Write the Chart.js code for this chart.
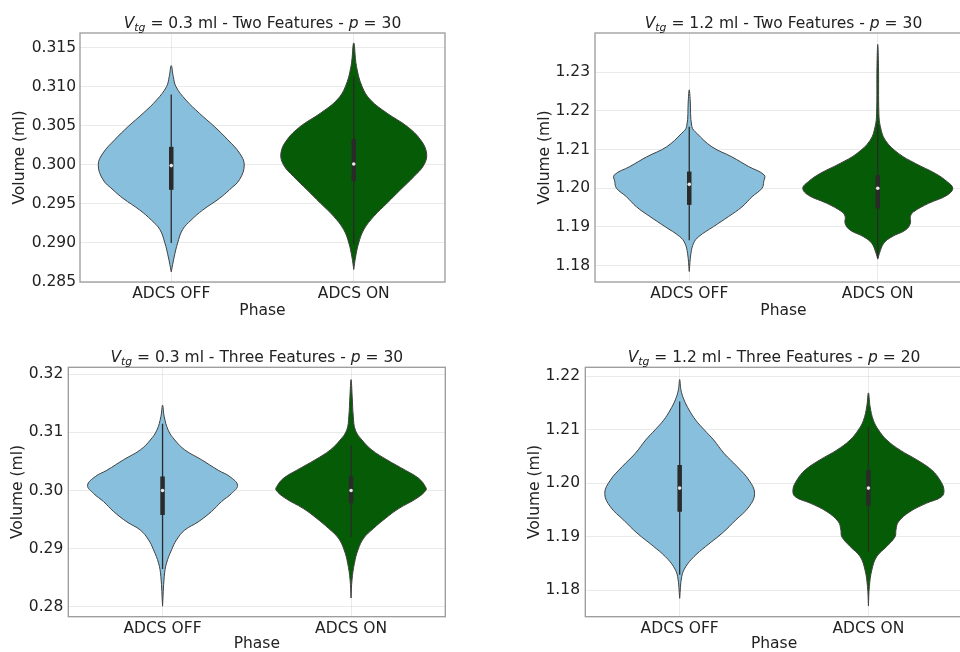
<!DOCTYPE html>
<html>
<head>
<meta charset="utf-8">
<script src="https://cdn.jsdelivr.net/npm/chart.js@4.4.1/dist/chart.umd.min.js"></script>
<style>
  html, body { margin: 0; padding: 0; background: #fff; overflow: hidden; }
  #wrap { position: relative; width: 960px; height: 652px; overflow: hidden; }
  #wrap canvas { position: absolute; }
</style>
</head>
<body>
<div id="wrap">
  <canvas id="c1" width="480" height="330" style="left:0;top:0"></canvas>
  <canvas id="c2" width="500" height="330" style="left:480px;top:0"></canvas>
  <canvas id="c3" width="480" height="340" style="left:0;top:330px"></canvas>
  <canvas id="c4" width="500" height="340" style="left:480px;top:330px"></canvas>
</div>
<script>
var categories = ['ADCS OFF', 'ADCS ON'];

// violin outlines: volume levels (bottom tip -> top tip) and kde half widths
// box stats per violin: [whisker low, q1, median, q3, whisker high]

// Vtg = 0.3 ml, two features
var twoLowOffLevels = [0.2863, 0.2882, 0.2900, 0.2917, 0.2929, 0.2942, 0.2957, 0.2968, 0.2981, 0.3000, 0.3015, 0.3032, 0.3049, 0.3066, 0.3083, 0.3100, 0.3113, 0.3127];
var twoLowOffWidths = [0, 0.016, 0.035, 0.062, 0.108, 0.172, 0.264, 0.319, 0.374, 0.400, 0.374, 0.310, 0.236, 0.154, 0.080, 0.026, 0.011, 0];
var twoLowOnLevels = [0.2866, 0.2882, 0.2900, 0.2917, 0.2934, 0.2951, 0.2968, 0.2985, 0.3000, 0.3015, 0.3032, 0.3049, 0.3066, 0.3083, 0.3100, 0.3126, 0.3156];
var twoLowOnWidths = [0, 0.010, 0.027, 0.055, 0.110, 0.183, 0.256, 0.330, 0.385, 0.399, 0.366, 0.293, 0.183, 0.092, 0.046, 0.015, 0];
var twoLowBoxes = [[0.2900, 0.2968, 0.2999, 0.3023, 0.3090], [0.2898, 0.2979, 0.3001, 0.3033, 0.3113]];
var twoLowTicks = [0.285, 0.290, 0.295, 0.300, 0.305, 0.310, 0.315];

// Vtg = 1.2 ml, two features
var twoHighOffLevels = [1.1785, 1.1832, 1.1858, 1.1875, 1.1901, 1.1927, 1.1952, 1.1978, 1.2000, 1.2017, 1.2034, 1.2056, 1.2081, 1.2107, 1.2142, 1.2159, 1.2228, 1.2254];
var twoHighOffWidths = [0, 0.009, 0.023, 0.050, 0.129, 0.209, 0.280, 0.333, 0.386, 0.395, 0.398, 0.315, 0.226, 0.120, 0.040, 0.014, 0.005, 0];
var twoHighOnLevels = [1.1817, 1.1832, 1.1858, 1.1875, 1.1892, 1.1909, 1.1927, 1.1939, 1.1961, 1.1982, 1.2000, 1.2017, 1.2038, 1.2064, 1.2090, 1.2124, 1.2159, 1.2193, 1.2314, 1.2371];
var twoHighOnWidths = [0, 0.009, 0.032, 0.076, 0.147, 0.173, 0.173, 0.190, 0.270, 0.368, 0.398, 0.368, 0.306, 0.200, 0.110, 0.040, 0.014, 0.006, 0.004, 0];
var twoHighBoxes = [[1.1866, 1.1957, 1.2010, 1.2043, 1.2159], [1.1820, 1.1948, 1.2000, 1.2034, 1.2165]];
var twoHighTicks = [1.18, 1.19, 1.20, 1.21, 1.22, 1.23];

// Vtg = 0.3 ml, three features
var threeLowOffLevels = [0.2801, 0.2852, 0.2875, 0.2898, 0.2915, 0.2932, 0.2946, 0.2964, 0.2981, 0.2995, 0.3009, 0.3024, 0.3035, 0.3053, 0.3070, 0.3087, 0.3104, 0.3127, 0.3147];
var threeLowOffWidths = [0, 0.009, 0.021, 0.048, 0.074, 0.118, 0.189, 0.260, 0.313, 0.366, 0.398, 0.357, 0.295, 0.207, 0.118, 0.065, 0.030, 0.009, 0];
var threeLowOnLevels = [0.2815, 0.2846, 0.2875, 0.2898, 0.2918, 0.2935, 0.2952, 0.2969, 0.2987, 0.3001, 0.3007, 0.3021, 0.3035, 0.3053, 0.3070, 0.3087, 0.3104, 0.3127, 0.3162, 0.3191];
var threeLowOnWidths = [0, 0.005, 0.018, 0.037, 0.067, 0.120, 0.182, 0.253, 0.350, 0.398, 0.394, 0.359, 0.288, 0.190, 0.110, 0.058, 0.023, 0.012, 0.006, 0];
var threeLowBoxes = [[0.2865, 0.2958, 0.3000, 0.3024, 0.3115], [0.2920, 0.2978, 0.3000, 0.3024, 0.3078]];
var threeLowTicks = [0.28, 0.29, 0.30, 0.31, 0.32];

// Vtg = 1.2 ml, three features
var threeHighOffLevels = [1.1785, 1.1826, 1.1844, 1.1863, 1.1882, 1.1907, 1.1931, 1.1956, 1.1981, 1.2006, 1.2031, 1.2056, 1.2081, 1.2100, 1.2118, 1.2137, 1.2156, 1.2174, 1.2194];
var threeHighOffWidths = [0, 0.011, 0.032, 0.076, 0.138, 0.226, 0.296, 0.367, 0.397, 0.367, 0.305, 0.235, 0.180, 0.130, 0.085, 0.050, 0.023, 0.007, 0];
var threeHighOnLevels = [1.1771, 1.1807, 1.1838, 1.1863, 1.1882, 1.1900, 1.1913, 1.1928, 1.1947, 1.1963, 1.1975, 1.1988, 1.2006, 1.2025, 1.2044, 1.2062, 1.2081, 1.2100, 1.2118, 1.2143, 1.2169];
var threeHighOnWidths = [0, 0.005, 0.018, 0.044, 0.097, 0.141, 0.146, 0.159, 0.220, 0.309, 0.388, 0.400, 0.379, 0.335, 0.256, 0.168, 0.097, 0.053, 0.026, 0.009, 0];
var threeHighBoxes = [[1.1829, 1.1947, 1.1991, 1.2034, 1.2153], [1.1872, 1.1958, 1.1991, 1.2025, 1.2106]];
var threeHighTicks = [1.18, 1.19, 1.20, 1.21, 1.22];

var violinColors = ['#88bfdc', '#065c06'];
var edgeColor = '#404040';
var boxColor = '#2a2a2a';

Chart.defaults.font.family = "'DejaVu Sans', sans-serif";
Chart.defaults.font.size = 15.5;
Chart.defaults.color = '#222';

// closed outline: up the left side, back down the right side
function violinPoints(center, levels, widths) {
  var pts = [];
  for (var i = 0; i < levels.length; i++) pts.push({x: center - widths[i], y: levels[i]});
  for (var j = levels.length - 2; j >= 0; j--) pts.push({x: center + widths[j], y: levels[j]});
  return pts;
}

function buildDatasets(violins, boxes) {
  var top = [], bottom = [];
  for (var k = 0; k < violins.length; k++) {
    var b = boxes[k];
    top.push({
      data: [{x: k, y: b[2]}], showLine: false,
      pointRadius: 1.8, pointBackgroundColor: '#e6e6e6', pointBorderWidth: 0
    });
    top.push({
      data: [{x: k, y: b[1]}, {x: k, y: b[3]}], showLine: true,
      borderColor: boxColor, borderWidth: 4.5, borderCapStyle: 'butt', pointRadius: 0
    });
    top.push({
      data: [{x: k, y: b[0]}, {x: k, y: b[4]}], showLine: true,
      borderColor: boxColor, borderWidth: 1.3, pointRadius: 0
    });
    bottom.push({
      data: violinPoints(k, violins[k][0], violins[k][1]), showLine: true,
      borderColor: edgeColor, borderWidth: 1, backgroundColor: violinColors[k],
      fill: 'shape', tension: 0.4, pointRadius: 0
    });
  }
  return top.concat(bottom);
}

function titlePlugin(parts) {
  return {
    id: 'mathTitle',
    afterDraw: function (chart) {
      var ctx = chart.ctx, area = chart.chartArea;
      var size = 15.5, fam = "'DejaVu Sans', sans-serif";
      function fontOf(p) { return (p.it ? 'italic ' : '') + (p.sub ? size * 0.7 : size) + 'px ' + fam; }
      var total = 0;
      ctx.save();
      parts.forEach(function (p) { ctx.font = fontOf(p); total += ctx.measureText(p.t).width; });
      var x = (area.left + area.right) / 2 - total / 2;
      var y = area.top - 5.5;
      ctx.fillStyle = '#222';
      ctx.textBaseline = 'alphabetic';
      ctx.textAlign = 'left';
      parts.forEach(function (p) {
        ctx.font = fontOf(p);
        ctx.fillText(p.t, x, y + (p.sub ? 3.5 : 0));
        x += ctx.measureText(p.t).width;
      });
      ctx.restore();
    }
  };
}

var framePlugin = {
  id: 'frame',
  afterDraw: function (chart) {
    var a = chart.chartArea, ctx = chart.ctx;
    ctx.save();
    ctx.strokeStyle = '#9a9a9a';
    ctx.lineWidth = 1.3;
    ctx.strokeRect(a.left, a.top, a.right - a.left, a.bottom - a.top);
    ctx.restore();
  }
};

function makePanel(id, opts) {
  var grid = {color: 'rgba(170,170,170,0.25)', lineWidth: 1, drawTicks: false};
  new Chart(document.getElementById(id), {
    type: 'scatter',
    data: {datasets: buildDatasets(opts.violins, opts.boxes)},
    options: {
      responsive: false,
      animation: false,
      layout: {padding: {top: opts.padTop, right: opts.padRight, left: 0, bottom: 0}},
      plugins: {legend: {display: false}, tooltip: {enabled: false}, title: {display: false}},
      scales: {
        x: {
          type: 'linear', min: -0.5, max: 1.5, z: 1,
          grid: grid, border: {display: false},
          afterBuildTicks: function (s) { s.ticks = categories.map(function (c, i) { return {value: i}; }); },
          afterFit: function (s) { s.height = opts.xHeight; },
          ticks: {padding: 3, maxRotation: 0, callback: function (v) { return categories[v]; }},
          title: {display: true, text: 'Phase', padding: {top: 0, bottom: opts.xTitlePad}}
        },
        y: {
          type: 'linear', min: opts.yMin, max: opts.yMax, z: 1,
          grid: grid, border: {display: false},
          afterBuildTicks: function (s) { s.ticks = opts.ticks.map(function (v) { return {value: v}; }); },
          afterFit: function (s) { s.width = opts.yWidth; },
          ticks: {padding: opts.yTickPad, callback: function (v) { return v.toFixed(opts.decimals); }},
          title: {display: true, text: 'Volume (ml)', padding: {top: opts.yTitlePad, bottom: 0}}
        }
      }
    },
    plugins: [framePlugin, titlePlugin(opts.title)]
  });
}

function titleParts(vtg, features, p) {
  return [
    {t: 'V', it: true}, {t: 'tg', it: true, sub: true},
    {t: ' = ' + vtg + ' ml - ' + features + ' Features - '},
    {t: 'p', it: true}, {t: ' = ' + p}
  ];
}

makePanel('c1', {
  violins: [[twoLowOffLevels, twoLowOffWidths], [twoLowOnLevels, twoLowOnWidths]],
  boxes: twoLowBoxes, ticks: twoLowTicks, decimals: 3,
  yMin: 0.285, yMax: 0.31687,
  padTop: 33, padRight: 35, yWidth: 80, xHeight: 48,
  yTitlePad: 10.7, xTitlePad: 9.7, yTickPad: 4,
  title: titleParts('0.3', 'Two', '30')
});
makePanel('c2', {
  violins: [[twoHighOffLevels, twoHighOffWidths], [twoHighOnLevels, twoHighOnWidths]],
  boxes: twoHighBoxes, ticks: twoHighTicks, decimals: 2,
  yMin: 1.17579, yMax: 1.24008,
  padTop: 33, padRight: 8, yWidth: 115, xHeight: 48,
  yTitlePad: 55.7, xTitlePad: 9.7, yTickPad: 5,
  title: titleParts('1.2', 'Two', '30')
});
makePanel('c3', {
  violins: [[threeLowOffLevels, threeLowOffWidths], [threeLowOnLevels, threeLowOnWidths]],
  boxes: threeLowBoxes, ticks: threeLowTicks, decimals: 2,
  yMin: 0.27828, yMax: 0.32122,
  padTop: 37.3, padRight: 34.7, yWidth: 68.3, xHeight: 53.3,
  yTitlePad: 9, xTitlePad: 16.4, yTickPad: 5,
  title: titleParts('0.3', 'Three', '30')
});
makePanel('c4', {
  violins: [[threeHighOffLevels, threeHighOffWidths], [threeHighOnLevels, threeHighOnWidths]],
  boxes: threeHighBoxes, ticks: threeHighTicks, decimals: 2,
  yMin: 1.17507, yMax: 1.22168,
  padTop: 37.3, padRight: 17.2, yWidth: 105.3, xHeight: 53.3,
  yTitlePad: 45.7, xTitlePad: 16.4, yTickPad: 5.3,
  title: titleParts('1.2', 'Three', '20')
});
</script>
</body>
</html>
